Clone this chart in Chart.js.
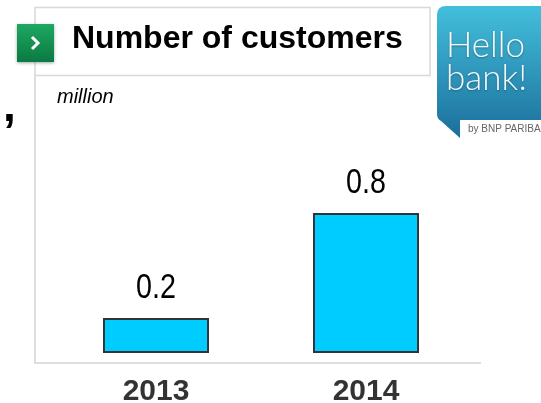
<!DOCTYPE html>
<html lang="en">
<head>
    <meta charset="UTF-8">
    <title>Number of customers</title>
    <script src="https://cdn.jsdelivr.net/npm/chart.js@4.4.1/dist/chart.umd.min.js"></script>
    <style>
        html, body { margin: 0; padding: 0; background: #fff; overflow: hidden; }
        canvas { display: block; }
    </style>
</head>
<body>
    <canvas id="chart" width="541" height="403"></canvas>
    <script>
        // data (million customers)
        const years = ['2013', '2014'];
        const customers = [0.2, 0.8];
        const valueLabels = ['0.2', '0.8'];

        const title = 'Number of customers';
        const unit = 'million';

        const sans = '"Liberation Sans", Arial, sans-serif';

        // frame, title box, logo - drawn behind the chart
        const decor = {
            id: 'decor',
            beforeDraw(chart) {
                const c = chart.ctx;
                c.save();
                c.fillStyle = '#fff';
                c.fillRect(0, 0, chart.width, chart.height);

                // stray comma from the slide text on the left
                c.fillStyle = '#000';
                c.font = 'bold 46px ' + sans;
                c.textAlign = 'left';
                c.textBaseline = 'alphabetic';
                c.fillText(',', 3, 121);

                // frame lines
                c.strokeStyle = '#dedede';
                c.lineWidth = 2;
                c.beginPath();
                c.moveTo(35, 75);
                c.lineTo(35, 363);
                c.lineTo(481, 363);
                c.stroke();

                // title box
                c.lineWidth = 1.5;
                c.strokeStyle = '#d8d8d8';
                c.strokeRect(35, 7.5, 395, 68);

                // green bullet
                c.shadowColor = 'rgba(0,0,0,0.35)';
                c.shadowBlur = 3;
                c.shadowOffsetY = 1;
                const g = c.createLinearGradient(0, 24, 0, 62);
                g.addColorStop(0, '#1ea862');
                g.addColorStop(1, '#0a7a42');
                c.fillStyle = g;
                c.fillRect(17, 24, 37, 38);
                c.shadowColor = 'transparent';
                c.strokeStyle = '#fff';
                c.lineWidth = 3;
                c.beginPath();
                c.moveTo(32, 37);
                c.lineTo(38, 43);
                c.lineTo(32, 49);
                c.stroke();

                c.fillStyle = '#000';
                c.font = 'bold 32px ' + sans;
                c.fillText(title, 72, 48);

                c.font = 'italic 20px ' + sans;
                c.fillText(unit, 57, 103);

                // Hello bank! badge
                const lg = c.createLinearGradient(0, 6, 0, 137);
                lg.addColorStop(0, '#43bfdb');
                lg.addColorStop(1, '#1b6f9c');
                c.fillStyle = lg;
                c.beginPath();
                c.moveTo(446, 6);
                c.lineTo(560, 6);
                c.lineTo(560, 120);
                c.lineTo(460, 120);
                c.lineTo(460, 138);
                c.lineTo(441, 121);
                c.quadraticCurveTo(437, 119, 437, 114);
                c.lineTo(437, 15);
                c.quadraticCurveTo(437, 6, 446, 6);
                c.closePath();
                c.fill();

                c.shadowColor = 'rgba(0,0,0,0.3)';
                c.shadowBlur = 2;
                c.shadowOffsetY = 1;
                c.fillStyle = '#f4f8fa';
                c.font = '300 35px Lato, "Open Sans", sans-serif';
                c.fillText('Hello', 446, 57);
                c.fillText('bank!', 446, 90);
                c.shadowColor = 'transparent';

                c.fillStyle = '#666';
                c.font = '10px ' + sans;
                c.textBaseline = 'middle';
                c.fillText('by BNP PARIBAS', 468, 129);
                c.restore();
            }
        };

        // value labels above the bars, in a narrowed face
        const barValues = {
            id: 'barValues',
            afterDatasetsDraw(chart) {
                const c = chart.ctx;
                const meta = chart.getDatasetMeta(0);
                meta.data.forEach((bar, i) => {
                    c.save();
                    c.translate(bar.x, bar.y - 20);
                    c.scale(0.82, 1);
                    c.fillStyle = '#000';
                    c.font = '35px ' + sans;
                    c.textAlign = 'center';
                    c.textBaseline = 'alphabetic';
                    c.fillText(valueLabels[i], 0, 0);
                    c.restore();
                });
            }
        };

        const ctx = document.getElementById('chart').getContext('2d');
        const myChart = new Chart(ctx, {
            type: 'bar',
            data: {
                labels: years,
                datasets: [{
                    label: 'Number of customers',
                    data: customers,
                    backgroundColor: '#00ccff',
                    borderColor: '#333333',
                    borderWidth: 2,
                    borderSkipped: false,
                    barPercentage: 0.505,
                    categoryPercentage: 1
                }]
            },
            options: {
                responsive: false,
                animation: false,
                events: [],
                layout: {
                    padding: { left: 51, right: 70, top: 143, bottom: 0 }
                },
                plugins: {
                    legend: { display: false },
                    tooltip: { enabled: false }
                },
                scales: {
                    x: {
                        grid: { display: false, drawTicks: false },
                        border: { display: false },
                        ticks: {
                            color: '#333',
                            font: { family: sans, size: 30, weight: 'bold' },
                            padding: 21
                        },
                        afterFit: s => { s.height = 50; }
                    },
                    y: {
                        display: false,
                        min: 0,
                        max: 1.2
                    }
                }
            },
            plugins: [decor, barValues]
        });
    </script>
</body>
</html>
